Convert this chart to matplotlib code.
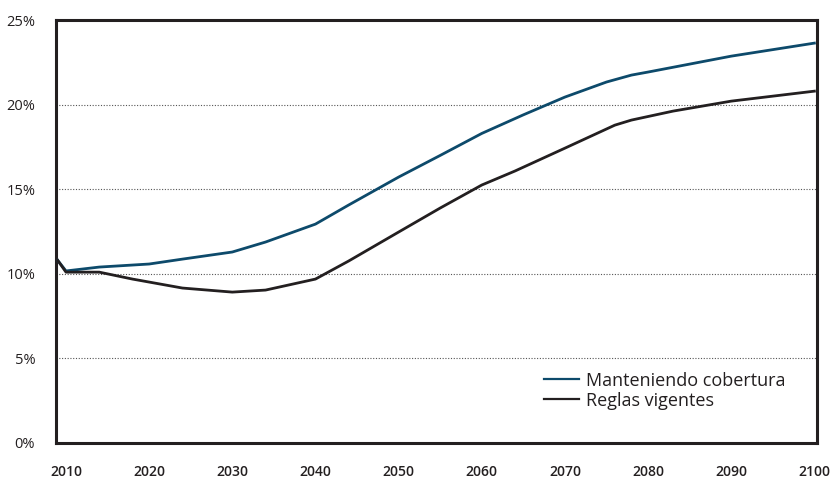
import matplotlib
matplotlib.use("Agg")
import matplotlib.pyplot as plt

years_blue = [2009, 2010, 2014, 2020, 2024, 2030, 2034, 2040, 2044, 2050, 2055, 2060, 2065,
              2070, 2075, 2078, 2080, 2090, 2100]
manteniendo = [10.8, 10.17, 10.4, 10.58, 10.87, 11.29, 11.88, 12.94, 14.07, 15.72, 17.0, 18.3,
               19.4, 20.45, 21.34, 21.75, 21.93, 22.87, 23.64]

years_black = [2009, 2010, 2014, 2018, 2024, 2030, 2034, 2040, 2044, 2050, 2055, 2060, 2064,
               2070, 2076, 2078, 2083, 2090, 2100]
reglas = [10.8, 10.1, 10.1, 9.69, 9.16, 8.92, 9.04, 9.69, 10.76, 12.47, 13.89, 15.25, 16.08,
          17.43, 18.79, 19.09, 19.62, 20.21, 20.8]

xticks = [2010, 2020, 2030, 2040, 2050, 2060, 2070, 2080, 2090, 2100]
yticks = [0, 5, 10, 15, 20, 25]
ytick_labels = ["0%", "5%", "10%", "15%", "20%", "25%"]

plt.rcParams['font.family'] = ['Open Sans', 'DejaVu Sans']

fig = plt.figure(figsize=(8.31, 4.79), dpi=100)
ax = fig.add_axes([0.0674, 0.0752, 0.9156, 0.8828])

for y in [5, 10, 15, 20]:
    ax.axhline(y, color="#555555", lw=0.8, ls=(0, (1, 1.5)), zorder=1)

ax.plot(years_blue, manteniendo, color="#0d4a6b", lw=2.0, label="Manteniendo cobertura", zorder=3)
ax.plot(years_black, reglas, color="#231f20", lw=2.0, label="Reglas vigentes", zorder=4)

ax.set_xlim(2008.8, 2100.3)
ax.set_ylim(0, 25)
ax.set_xticks(xticks)
ax.set_xticklabels([str(x) for x in xticks], fontsize=10, fontweight="semibold", color="#231f20")
ax.set_yticks(yticks)
ax.set_yticklabels(ytick_labels, fontsize=10.5, color="#231f20")
ax.tick_params(axis="both", length=0)
ax.tick_params(axis="x", pad=16)
ax.tick_params(axis="y", pad=15)
for lab in ax.get_yticklabels():
    lab.set_horizontalalignment("right")

for s in ax.spines.values():
    s.set_linewidth(2.2)
    s.set_color("#231f20")

leg = ax.legend(loc="lower right", bbox_to_anchor=(0.98, 0.04), frameon=False, fontsize=13,
                handlelength=1.9, handletextpad=0.4, labelspacing=0.12)
for t in leg.get_texts():
    t.set_color("#231f20")
for l in leg.get_lines():
    l.set_linewidth(1.6)

fig.savefig("out.png", dpi=100)
